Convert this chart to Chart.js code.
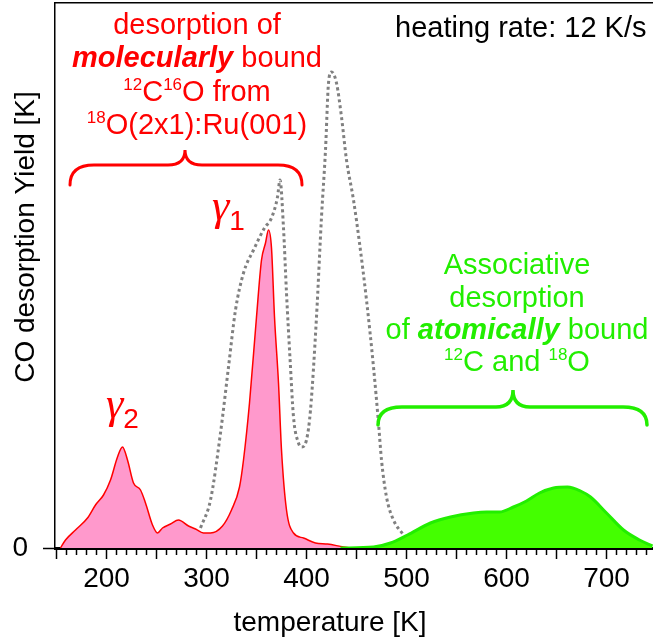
<!DOCTYPE html>
<html>
<head>
<meta charset="utf-8">
<script src="https://cdn.jsdelivr.net/npm/chart.js@4.4.0/dist/chart.umd.min.js"></script>
<style>
  html, body { margin: 0; padding: 0; background: #fff; }
  #wrap { width: 653px; height: 643px; }
</style>
</head>
<body>
<div id="wrap"><canvas id="tpd" width="653" height="643"></canvas></div>
<script>
// --- data: temperature [K] vs. desorption yield (arb.) ---
const pinkTemp  = [154,159,169,181,189,197,204,211,216,221,227,234,239,246,251,256,264,272,282,289,297,304,316,325,333,337,343,350,355,359,362,365,368,372,375,380,387,397,409,421,437,445];
const pinkYield = [0,8,18,30,43,53,68,91,101,88,65,58,45,23,15,20,24,28,22,19,15,15,22,38,61,88,145,231,288,305,318,300,231,165,98,38,15,10,5,4,1,0];

const dotTemp  = [294,304,314,322,329,337,347,358,365,371,373.5,377,380,383.5,387,392,395,400,404,410,415,419,422,425,430,435,440,447,453,460,467,472,475,480,487,497];
const dotYield = [20,48,115,181,238,275,298,320,330,351,368,320,255,190,131,105,101,108,138,231,331,398,465,476,465,431,388,348,305,248,181,125,88,51,28,13];

const greenTemp  = [434,467,484,501,524,544,567,580,593,607,620,633,647,661,674,684,700,717,733,746];
const greenYield = [0,1,5,13,25,31,35,36,36,41,47,55,60,61,57,51,35,18,8,2];

const xMajorTicks = [150,200,250,300,350,400,450,500,550,600,650,700];
const xLabelTicks = [200,300,400,500,600,700];
const yTicks = [0];

const FAM = '"Liberation Sans", Arial, Helvetica, sans-serif';
const RED = '#ff0000';
const GREEN = '#22ee00';

const toPts = (xs, ys) => xs.map((t, i) => ({ x: t, y: ys[i] }));

// annotation text, one array per line
const redLines = [
    [['desorption of', 'n']],
    [['molecularly', 'b'], [' bound', 'n']],
    [['12', 's'], ['C', 'n'], ['16', 's'], ['O from', 'n']],
    [['18', 's'], ['O(2x1):Ru(001)', 'n']]
];
const greenLines = [
    [['Associative', 'n']],
    [['desorption', 'n']],
    [['of ', 'n'], ['atomically', 'b'], [' bound', 'n']],
    [['12', 's'], ['C and ', 'n'], ['18', 's'], ['O', 'n']]
];

function richLine(c, segs, cx, by, color, align) {
    const fonts = {
        n: '29px ' + FAM,
        b: 'italic bold 29px ' + FAM,
        s: '17px ' + FAM,
        g: 'italic 44px "Liberation Serif", "DejaVu Serif", serif',
        sub: '28px ' + FAM
    };
    const dy = { n: 0, b: 0, s: -11, g: 0, sub: 10 };
    let w = 0;
    segs.forEach(([t, k]) => { c.font = fonts[k]; w += c.measureText(t).width; });
    let x = align === 'left' ? cx : cx - w / 2;
    c.fillStyle = color;
    c.textAlign = 'left';
    c.textBaseline = 'alphabetic';
    segs.forEach(([t, k]) => {
        c.font = fonts[k];
        c.fillText(t, x, by + dy[k]);
        x += c.measureText(t).width;
    });
}

function brace(c, sx, sy, b, color, width) {
    const x1 = sx.getPixelForValue(b.from), x2 = sx.getPixelForValue(b.to), xm = sx.getPixelForValue(b.tip);
    const yE = sy.getPixelForValue(b.yEnd), yH = sy.getPixelForValue(b.yBar), yT = sy.getPixelForValue(b.yTip);
    const r = 24, rm = 17;
    c.save();
    c.strokeStyle = color;
    c.lineWidth = width;
    c.lineCap = 'round';
    c.beginPath();
    c.moveTo(x1, yE);
    c.quadraticCurveTo(x1, yH, x1 + r, yH);
    c.lineTo(xm - rm, yH);
    c.quadraticCurveTo(xm, yH, xm, yT);
    c.quadraticCurveTo(xm, yH, xm + rm, yH);
    c.lineTo(x2 - r, yH);
    c.quadraticCurveTo(x2, yH, x2, yE);
    c.stroke();
    c.restore();
}

const annotations = {
    id: 'annotations',
    afterDatasetsDraw(chart) {
        const c = chart.ctx, sx = chart.scales.x, sy = chart.scales.y;
        c.save();
        // red block
        const redBase = [514, 481, 447, 414];
        redLines.forEach((l, i) => richLine(c, l, sx.getPixelForValue(290.5), sy.getPixelForValue(redBase[i]), RED));
        brace(c, sx, sy, { from: 163.5, to: 395.5, tip: 278.5, yEnd: 363, yBar: 383, yTip: 398 }, RED, 3);
        // green block
        const greenBase = [274, 241, 209, 177];
        greenLines.forEach((l, i) => richLine(c, l, sx.getPixelForValue(610.5), sy.getPixelForValue(greenBase[i]), GREEN));
        brace(c, sx, sy, { from: 471.5, to: 740.5, tip: 606.5, yEnd: 123, yBar: 141, yTip: 158 }, GREEN, 3.5);
        // heating rate
        richLine(c, [['heating rate: 12 K/s', 'n']], sx.getPixelForValue(488.5), sy.getPixelForValue(511), '#000', 'left');
        // peak labels
        richLine(c, [['\u03b3', 'g'], ['2', 'sub']], sx.getPixelForValue(199.5), sy.getPixelForValue(130), RED, 'left');
        richLine(c, [['\u03b3', 'g'], ['1', 'sub']], sx.getPixelForValue(305.5), sy.getPixelForValue(328), RED, 'left');
        c.restore();

        // axis titles
        c.save();
        c.font = '28px ' + FAM;
        c.fillStyle = '#000';
        c.textAlign = 'center';
        c.textBaseline = 'middle';
        c.fillText('temperature [K]', sx.getPixelForValue(423.5), chart.chartArea.bottom + 75);
        c.translate(chart.chartArea.left - 21, sy.getPixelForValue(311));
        c.rotate(-Math.PI / 2);
        c.textBaseline = 'alphabetic';
        c.fillText('CO desorption Yield [K]', 0, 0);
        c.restore();
    }
};

const minorTicks = {
    id: 'minorTicks',
    afterDraw(chart) {
        const c = chart.ctx, sx = chart.scales.x;
        const y0 = chart.chartArea.bottom;
        c.save();
        c.strokeStyle = '#000';
        c.lineWidth = 1.5;
        for (let t = 150; t <= 740; t += 10) {
            if (t % 50 === 0) continue;
            const px = sx.getPixelForValue(t);
            c.beginPath();
            c.moveTo(px, y0);
            c.lineTo(px, y0 + 7);
            c.stroke();
        }
        c.restore();
    }
};

Chart.defaults.font.family = FAM;
Chart.defaults.color = '#000';

new Chart(document.getElementById('tpd').getContext('2d'), {
    type: 'line',
    data: {
        datasets: [
            {
                label: 'atomic',
                data: toPts(greenTemp, greenYield),
                borderColor: GREEN,
                backgroundColor: '#44ff00',
                borderWidth: 3,
                fill: 'origin',
                pointRadius: 0,
                cubicInterpolationMode: 'monotone'
            },
            {
                label: 'molecular',
                data: toPts(pinkTemp, pinkYield),
                borderColor: RED,
                backgroundColor: '#ff99cc',
                borderWidth: 1.5,
                fill: 'origin',
                pointRadius: 0,
                cubicInterpolationMode: 'monotone'
            },
            {
                label: 'reference',
                data: toPts(dotTemp, dotYield),
                borderColor: '#808080',
                borderWidth: 3,
                borderDash: [3, 3],
                fill: false,
                pointRadius: 0,
                cubicInterpolationMode: 'monotone'
            }
        ]
    },
    options: {
        responsive: false,
        animation: false,
        devicePixelRatio: 1,
        layout: { padding: 0 },
        plugins: {
            legend: { display: false },
            tooltip: { enabled: false }
        },
        scales: {
            x: {
                type: 'linear',
                position: 'bottom',
                min: 148.5,
                max: 746.5,
                z: 1,
                afterFit: s => { s.height = 95; s.paddingLeft = 0; s.paddingRight = 0; },
                afterBuildTicks: s => { s.ticks = xMajorTicks.map(v => ({ value: v })); },
                grid: { drawOnChartArea: false, drawTicks: true, tickLength: 11, tickWidth: 1.5, tickColor: '#000' },
                border: { display: true, color: '#000', width: 3 },
                ticks: {
                    autoSkip: false,
                    maxRotation: 0,
                    padding: 3,
                    font: { size: 28 },
                    color: '#000',
                    callback: v => (xLabelTicks.includes(v) ? String(v) : '')
                }
            },
            xTop: {
                type: 'linear',
                position: 'top',
                min: 148.5,
                max: 746.5,
                afterFit: s => { s.height = 3; s.paddingLeft = 0; s.paddingRight = 0; },
                ticks: { display: false },
                grid: { display: false, drawTicks: false },
                border: { display: true, color: '#000', width: 1.5 }
            },
            y: {
                type: 'linear',
                position: 'left',
                min: 0,
                max: 545,
                z: 1,
                afterFit: s => { s.width = 55; s.paddingTop = 0; s.paddingBottom = 0; },
                afterBuildTicks: s => { s.ticks = yTicks.map(v => ({ value: v })); },
                grid: { drawOnChartArea: false, drawTicks: true, tickLength: 12, tickWidth: 1.5, tickColor: '#000' },
                border: { display: true, color: '#000', width: 1.5 },
                ticks: { padding: 15, font: { size: 28 }, color: '#000' }
            }
        }
    },
    plugins: [annotations, minorTicks]
});
</script>
</body>
</html>
